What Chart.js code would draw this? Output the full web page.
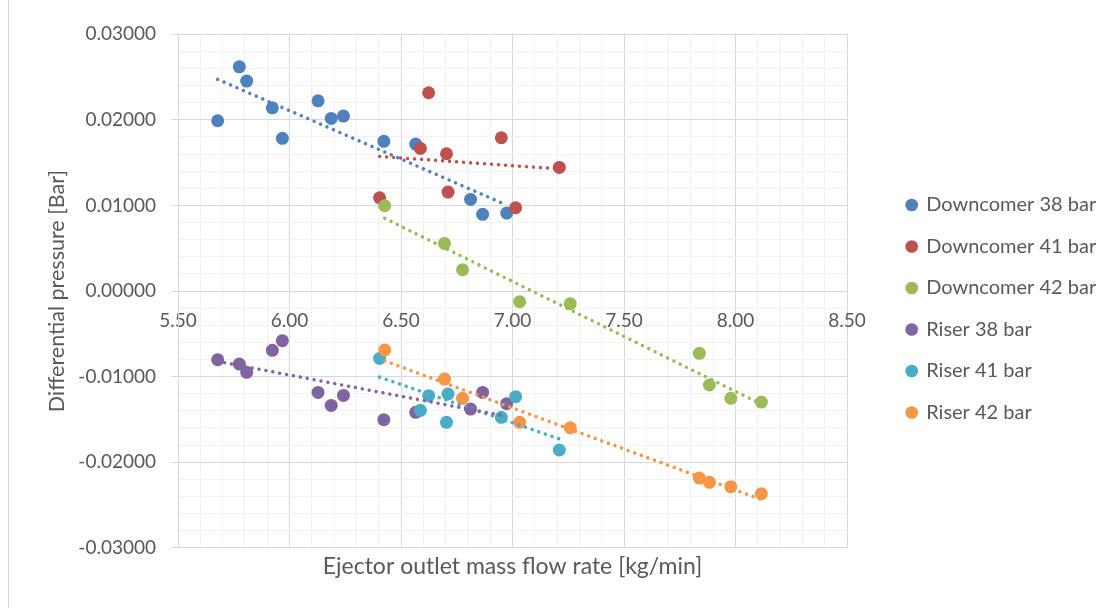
<!DOCTYPE html>
<html lang="en">
<head>
  <meta charset="UTF-8" />
  <title>Differential pressure vs ejector outlet mass flow rate</title>
  <script src="https://cdn.jsdelivr.net/npm/chart.js"></script>
  <style>
    html, body { margin: 0; padding: 0; background: #fff; }
    #wrap { position: relative; width: 1113px; height: 608px; overflow: hidden; }
    #frame { position: absolute; left: 8px; top: -5px; width: 2000px; height: 2000px; border-left: 1px solid #d9d9d9; }
    #chart { position: absolute; left: 0; top: 0; }
  </style>
</head>
<body>
  <div id="wrap">
    <div id="frame"></div>
    <canvas id="chart" width="1113" height="608"></canvas>
  </div>

  <script>
    // flow rates shared by the 38 bar runs, the 41 bar runs and the 42 bar runs
    const flow38 = [5.678, 5.775, 5.808, 5.923, 5.968, 6.128, 6.187, 6.242, 6.423, 6.566, 6.812, 6.866, 6.974];
    const flow41 = [6.404, 6.587, 6.624, 6.704, 6.711, 6.950, 7.014, 7.210];
    const flow42 = [6.427, 6.695, 6.776, 7.032, 7.259, 7.838, 7.883, 7.979, 8.116];

    const down38 = [0.0199, 0.0262, 0.02453, 0.02141, 0.01784, 0.02223, 0.02017, 0.02044, 0.01749, 0.01717, 0.01071, 0.00896, 0.00911];
    const riser38 = [-0.00802, -0.00853, -0.0095, -0.00693, -0.0058, -0.01184, -0.01336, -0.01219, -0.01503, -0.01417, -0.01379, -0.01184, -0.01316];
    const down41 = [0.0109, 0.01667, 0.02317, 0.01604, 0.01157, 0.01791, 0.00973, 0.01445];
    const riser41 = [-0.00787, -0.01394, -0.01223, -0.01534, -0.01203, -0.01476, -0.01234, -0.01857];
    const down42 = [0.00997, 0.00557, 0.00249, -0.00125, -0.00148, -0.00728, -0.01098, -0.01254, -0.01297];
    const riser42 = [-0.00689, -0.01028, -0.01254, -0.01534, -0.01597, -0.02185, -0.02235, -0.02286, -0.02368];

    const seriesNames = ["Downcomer 38 bar", "Downcomer 41 bar", "Downcomer 42 bar", "Riser 38 bar", "Riser 41 bar", "Riser 42 bar"];
    const seriesColors = ["#4f81bd", "#c0504d", "#9bbb59", "#8064a2", "#4bacc6", "#f79646"];

    const xTicks = { min: 5.5, max: 8.5, minor: 0.1, major: 0.5 };
    const yTicks = { min: -0.03, max: 0.03, minor: 0.002, major: 0.01 };

    const FONT = "Lato";
    const TEXT = "#595959";
    const MAJOR = "#d9d9d9";
    const MINOR = "#f2f2f2";
    const FS = 19;       // tick labels
    const LEGEND_FS = 20;
    const XTITLE_FS = 23;
    const YTITLE_FS = 21.5;

    Chart.defaults.font.family = FONT;
    Chart.defaults.font.size = FS;
    Chart.defaults.color = TEXT;

    function isMultiple(v, step) {
      const r = v / step;
      return Math.abs(r - Math.round(r)) < 1e-6;
    }

    function pairs(xs, ys) {
      return xs.map((x, i) => ({ x: x, y: ys[i] }));
    }

    // linear least squares trendline across the range of the data
    function trend(xs, ys) {
      const n = xs.length;
      let sx = 0, sy = 0, sxx = 0, sxy = 0;
      for (let i = 0; i < n; i++) {
        sx += xs[i]; sy += ys[i]; sxx += xs[i] * xs[i]; sxy += xs[i] * ys[i];
      }
      const b = (n * sxy - sx * sy) / (n * sxx - sx * sx);
      const a = (sy - b * sx) / n;
      const lo = Math.min(...xs), hi = Math.max(...xs);
      return [{ x: lo, y: a + b * lo }, { x: hi, y: a + b * hi }];
    }

    const seriesX = [flow38, flow41, flow42, flow38, flow41, flow42];
    const seriesY = [down38, down41, down42, riser38, riser41, riser42];

    const datasets = [];
    seriesNames.forEach((name, i) => {
      datasets.push({
        label: name,
        data: pairs(seriesX[i], seriesY[i]),
        backgroundColor: seriesColors[i],
        borderColor: seriesColors[i],
        borderWidth: 0,
        pointRadius: 6.5,
        pointHoverRadius: 6.5,
        showLine: false,
        order: 20 - i
      });
    });
    seriesNames.forEach((name, i) => {
      datasets.push({
        label: name + " trend",
        isTrend: true,
        type: "line",
        data: trend(seriesX[i], seriesY[i]),
        borderColor: seriesColors[i],
        backgroundColor: seriesColors[i],
        borderWidth: 3.5,
        borderDash: [0.01, 7],
        borderCapStyle: "round",
        pointRadius: 0,
        fill: false,
        order: -1
      });
    });

    // legend geometry
    const legendBox = 9;
    const legendPad = 41.5 - LEGEND_FS;
    const plotRight = 847;
    const legendGap = 907.2 - plotRight - legendPad;
    const meas = document.createElement("canvas").getContext("2d");
    meas.font = LEGEND_FS + "px " + FONT;
    const textW = Math.max(...seriesNames.map(n => meas.measureText(n).width));
    const legendW = legendPad + legendBox + LEGEND_FS / 2 + textW;
    const padRight = 1113 - plotRight - legendGap - legendW;

    const majorOrMinor = (step, a, b) => ctx => (ctx.tick && isMultiple(ctx.tick.value, step) ? a : b);

    new Chart(document.getElementById("chart"), {
      type: "scatter",
      data: { datasets: datasets },
      options: {
        responsive: false,
        animation: false,
        layout: { padding: { left: 0, right: padRight, top: 12, bottom: 2.5 } },
        plugins: {
          tooltip: { enabled: false },
          legend: {
            position: "right",
            maxWidth: legendW,
            labels: {
              usePointStyle: true,
              pointStyle: "circle",
              boxWidth: legendBox,
              boxHeight: legendBox,
              padding: legendPad,
              color: TEXT,
              font: { size: LEGEND_FS },
              filter: (item, data) => !data.datasets[item.datasetIndex].isTrend,
              sort: (a, b) => a.datasetIndex - b.datasetIndex
            }
          }
        },
        scales: {
          x: {
            type: "linear",
            position: { y: 0 },
            min: xTicks.min,
            max: xTicks.max,
            ticks: {
              stepSize: xTicks.minor,
              autoSkip: false,
              maxRotation: 0,
              padding: 12,
              color: TEXT,
              callback: v => (isMultiple(v, xTicks.major) ? v.toFixed(2) : "")
            },
            grid: {
              color: majorOrMinor(xTicks.major, MAJOR, MINOR),
              tickColor: majorOrMinor(xTicks.major, MAJOR, "rgba(0,0,0,0)"),
              tickLength: 6
            },
            border: { color: MAJOR }
          },
          y: {
            type: "linear",
            position: "left",
            min: yTicks.min,
            max: yTicks.max,
            afterFit: s => { s.width = 178; },
            ticks: {
              stepSize: yTicks.minor,
              autoSkip: false,
              padding: 15,
              color: TEXT,
              callback: v => (isMultiple(v, yTicks.major) ? (Math.abs(v) < 1e-9 ? 0 : v).toFixed(5) : "")
            },
            grid: {
              color: majorOrMinor(yTicks.major, MAJOR, MINOR),
              tickColor: majorOrMinor(yTicks.major, MAJOR, "rgba(0,0,0,0)"),
              tickLength: 7
            },
            border: { color: MAJOR },
            title: {
              display: true,
              text: "Differential pressure [Bar]",
              color: TEXT,
              font: { size: YTITLE_FS },
              padding: { top: 44.6, bottom: 0 }
            }
          },
          xTop: {
            type: "linear",
            axis: "x",
            position: "top",
            afterFit: s => { s.height = 22.3; },
            ticks: { display: false },
            grid: { display: false, drawTicks: false },
            border: { display: false }
          },
          xTitle: {
            type: "linear",
            axis: "x",
            position: "bottom",
            afterFit: s => { s.height = 57.7; },
            ticks: { display: false },
            grid: { display: false, drawTicks: false },
            border: { display: false },
            title: {
              display: true,
              text: "Ejector outlet mass flow rate [kg/min]",
              color: TEXT,
              font: { size: XTITLE_FS },
              padding: { top: 0, bottom: 24.7 }
            }
          },
          yGap: {
            type: "linear",
            axis: "y",
            position: "right",
            afterFit: s => { s.width = legendGap; },
            ticks: { display: false },
            grid: { display: false, drawTicks: false },
            border: { display: false }
          }
        }
      }
    });
  </script>
</body>
</html>
